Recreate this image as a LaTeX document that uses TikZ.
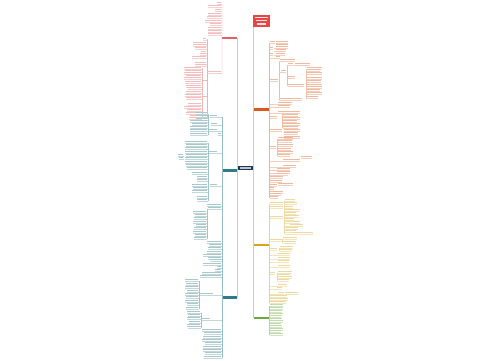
\documentclass[tikz,border=0pt]{standalone}
\definecolor{navy}{HTML}{1D3A5A}
\definecolor{titlered}{HTML}{E84545}
\definecolor{redL}{HTML}{E06262}
\definecolor{orangeR}{HTML}{D9591C}
\definecolor{goldC}{HTML}{D4A51C}
\definecolor{greenC}{HTML}{6BAA3C}
\definecolor{tealC}{HTML}{2F7C88}
\tikzset{
  bnode/.style={rectangle, inner sep=0pt, minimum width=15pt, minimum height=2.6pt},
  spine/.style={gray!40, line width=0.4pt},
}
% leaf: conn x, y, near x, far x, colour
\newcommand\lf[5]{%
  \fill[#5!42] (#3,#2-1.0) rectangle (#4,#2+0.1);
  \draw[#5!30, line width=0.3pt] (#1,#2+0.8) -- (#4,#2+0.8);}
\begin{document}
\begin{tikzpicture}[x=1pt,y=-1pt]
\fill[white] (0,0) rectangle (500,360);
\useasboundingbox (0,0) rectangle (500,360);

% main nodes
\node[rectangle, inner sep=0pt, minimum width=16.5pt, minimum height=11.5pt, fill=titlered] (title) at (261.5,20.8) {};
\foreach \y/\a/\b in {17.5/255/268,20.8/256/267,24/257/266}
  {\fill[white!85!titlered] (\a,\y-0.6) rectangle (\b,\y+0.6);}
\node[bnode, minimum height=4pt, fill=navy] (center) at (245.5,168) {};
\fill[white!70!navy] (240,167.4) rectangle (251,168.6);

\node[bnode, fill=redL]    (L1) at (229.75,38)  {};
\node[bnode, fill=tealC]   (T1) at (229.75,170.5) {};
\node[bnode, fill=tealC]   (T2) at (229.75,297.5) {};
\node[bnode, fill=orangeR] (R1) at (261.25,109.5) {};
\node[bnode, fill=goldC]   (G)  at (261.25,245) {};
\node[bnode, fill=greenC]  (Gr) at (261.25,318) {};

% spines
\draw[spine] (L1.east) -- (T2.east);
\draw[spine] (title.south west) -- (title.south west |- Gr.west);

% ---------- left red branch ----------
\draw[redL!55, line width=0.35pt] (L1.west) -- (222,2.5);
\draw[redL!55, line width=0.35pt] (L1.west) -- (222,72.8);
\foreach \y/\f in {3/217,6/208,10/215,14/208,17/207,21/205,24/210,28/208,31/208,34/208}
  {\lf{222}{\y}{221}{\f}{redL}}
\lf{222}{72}{221}{207}{redL}
\draw[redL!50, line width=0.35pt] (207,39) -- (207,118.8);
\foreach \y/\f in {39/203,43/193,45/193,48/195,52/201,54/200,57/192,63/195,65/195}
  {\lf{207}{\y}{206}{\f}{redL}}
\draw[redL!45, line width=0.3pt] (202,68) -- (202,118.8);
\foreach \y in {80,96,112} {\draw[redL!45, line width=0.3pt] (202,\y) -- (207,\y);}
\foreach \y/\f in {68/184,71/185,73/184,76/186,78/184,82/185,86/186,88/187,92/186,95/185,98/186,104/188,107/184,110/187,113/186,116/190,118/189}
  {\lf{202}{\y}{201}{\f}{redL}}

% ---------- left teal middle branch ----------
\draw[tealC!50, line width=0.35pt] (222,116.8) -- (222,258.8);
\foreach \y/\f in {113/195,116/197,119/196,121/190,124/192,127/190,130/190,134/190}
  {\lf{208}{\y}{207}{\f}{tealC}}
\draw[tealC!45, line width=0.3pt] (208,113.8) -- (208,134.8);
\foreach \y/\n/\f in {116/217/210,124/217/211,130/217/209,134/221/218,152/217/209,185/217/210}
  {\lf{222}{\y}{\n}{\f}{tealC}}
\draw[tealC!45, line width=0.3pt] (208,142.8) -- (208,200.8);
\foreach \y/\f in {142/185,145/186,148/185,152/185,155/186,158/185,162/185,165/186,168/187,173/192,177/197,180/197,185/192,188/193,191/192,197/197,200/197}
  {\lf{208}{\y}{207}{\f}{tealC}}
\foreach \y/\f in {155/178,158/179}
  {\lf{184}{\y}{183}{\f}{tealC}}
\lf{222}{205}{221}{207}{tealC}
\lf{222}{208}{221}{208}{tealC}
\draw[tealC!45, line width=0.3pt] (207,208.8) -- (207,238.8);
\foreach \y/\f in {212/193,215/195,218/194,222/193,225/196,228/194,232/193,235/195,238/194}
  {\lf{207}{\y}{206}{\f}{tealC}}
\foreach \y/\f in {242/207,245/209,248/208,252/207,255/210,258/208}
  {\lf{222}{\y}{221}{\f}{tealC}}
\draw[tealC!40, line width=0.3pt] (T1.west) -- (222,170.5);

% ---------- left teal bottom branch ----------
\draw[tealC!50, line width=0.35pt] (222,252.8) -- (222,357.8);
\foreach \y/\f in {252/217,255/203,258/217,260/210,264/203,267/217,270/215,273/202,276/200}
  {\lf{222}{\y}{221}{\f}{tealC}}
\lf{222}{294}{213}{199}{tealC}
\draw[tealC!45, line width=0.3pt] (199,280.8) -- (199,308.8);
\foreach \y/\f in {280/185,284/186,287/185,291/187,294/185,297/186,301/185,304/187,308/186}
  {\lf{199}{\y}{198}{\f}{tealC}}
\lf{222}{319}{210}{202}{tealC}
\draw[tealC!45, line width=0.3pt] (201,312.8) -- (201,327.8);
\foreach \y/\f in {312/187,315/188,318/187,322/189,325/187,327/188}
  {\lf{201}{\y}{200}{\f}{tealC}}
\foreach \y/\f in {330/202,333/204,337/203,340/202,343/205,347/203,350/203,353/205,357/204}
  {\lf{222}{\y}{221}{\f}{tealC}}

% ---------- right orange branch ----------
\draw[orangeR!45, line width=0.35pt] (269.5,42.8) -- (269.5,197.8);
\draw[orangeR!40, line width=0.3pt] (R1.east) -- (269.5,109.5);
\draw[orangeR!40, line width=0.3pt] (279,60.8) -- (279,99.8);
\draw[orangeR!40, line width=0.3pt] (287.5,64.8) -- (287.5,85.8);
\draw[orangeR!40, line width=0.3pt] (306,68.8) -- (306,97.8);
\draw[orangeR!40, line width=0.3pt] (282.5,112.8) -- (282.5,127.8);
\draw[orangeR!40, line width=0.3pt] (277.5,138.8) -- (277.5,155.8);
\foreach \c/\y/\n/\f in {
  269.5/42/270/275, 275.5/42/276/288, 275.5/45/276/288,
  269.5/48/270/273, 273.5/47/276/288, 273.5/50/276/286,
  269.5/54/270/273, 273.5/54/276/285, 269.5/57/276/280,
  269.5/80/270/278,
  279/60/280/295, 279/71/281/286, 287.5/64/288/293, 294/64/295/310,
  287.5/77/288/295, 287.5/85/288/304,
  306/68/307/322, 306/70/307/320, 306/73/307/322, 306/78/307/322, 306/81/307/321,
  306/85/307/322, 306/87/307/322, 306/90/307/320, 306/93/307/322, 306/97/307/318,
  279/99/280/302,
  269.5/103/278/292, 269.5/106/278/290, 269.5/112/278/293,
  269.5/117/270/277,
  282.5/112/283/300, 282.5/115/283/298, 282.5/118/283/300, 282.5/121/283/297, 282.5/124/283/300, 282.5/127/283/298,
  269.5/130/270/282, 283.5/130/284/300, 283.5/133/284/298, 283.5/137/284/300,
  269.5/147/270/276,
  277.5/138/278/293, 277.5/141/278/292, 277.5/145/278/293, 277.5/149/278/291, 277.5/152/278/293, 277.5/155/278/290,
  300.5/157/301/312, 269.5/160/283/300, 269.5/166/283/296,
  269.5/169/277/290, 269.5/172/277/290, 269.5/174/277/288,
  269.5/177/270/283, 269.5/181/270/282,
  269.5/185/270/277, 277.5/184/278/293,
  269.5/188/270/274, 269.5/192/270/283, 269.5/194/270/281, 269.5/197/270/278}
  {\lf{\c}{\y}{\n}{\f}{orangeR}}

% ---------- right gold branch ----------
\draw[goldC!50, line width=0.35pt] (269.5,203.8) -- (269.5,302.8);
\draw[goldC!45, line width=0.3pt] (G.east) -- (269.5,245);
\draw[goldC!40, line width=0.3pt] (284.5,200.8) -- (284.5,233.8);
\draw[goldC!40, line width=0.3pt] (282.5,238.8) -- (282.5,242.8);
\draw[goldC!40, line width=0.3pt] (279.5,247.8) -- (279.5,250.8);
\draw[goldC!40, line width=0.3pt] (277.5,272.8) -- (277.5,280.8);
\foreach \c/\y/\n/\f in {
  269.5/203/270/283, 269.5/207/270/283, 269.5/217/270/283,
  284.5/200/285/295, 284.5/203/285/297, 284.5/207/285/293, 284.5/210/285/300,
  284.5/213/285/296, 284.5/216/285/299, 284.5/219/285/294, 284.5/222/285/300,
  284.5/225/290/303, 284.5/228/285/298, 284.5/231/285/296, 284.5/233/293/313,
  269.5/240/270/282, 282.5/238/283/297, 282.5/242/283/296,
  269.5/249/270/277, 279.5/247/280/293, 279.5/250/280/292,
  269.5/254/278/290, 269.5/258/278/290, 269.5/261/278/289, 269.5/266/278/290,
  269.5/273/270/275,
  277.5/272/278/292, 277.5/275/278/290, 277.5/277/278/292, 277.5/280/278/289,
  269.5/285/278/287, 269.5/288/277/282, 269.5/293/278/284, 284.5/293/285/298,
  269.5/296/270/287, 269.5/299/270/288, 269.5/302/270/286}
  {\lf{\c}{\y}{\n}{\f}{goldC}}

% ---------- right green branch ----------
\draw[greenC!50, line width=0.35pt] (269.5,305.8) -- (269.5,334.8);
\draw[greenC!45, line width=0.3pt] (Gr.east) -- (269.5,318);
\foreach \y/\f in {305/283,308/283,311/282,314/283,316/281,319/282,321/283,324/281,326/282,329/283,331/281,334/283}
  {\lf{269.5}{\y}{270}{\f}{greenC}}
\end{tikzpicture}
\end{document}
